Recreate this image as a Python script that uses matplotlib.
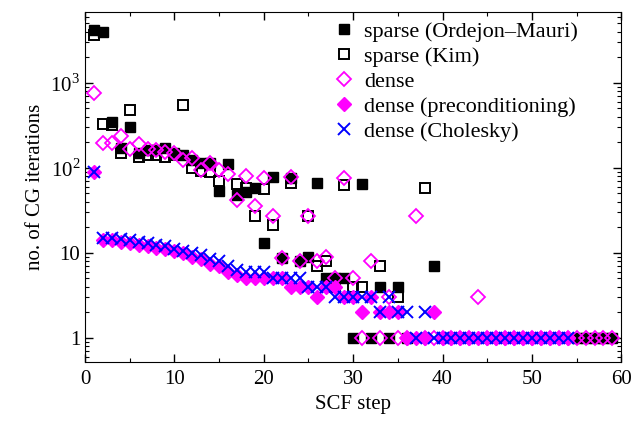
import numpy as np
import matplotlib
matplotlib.use('Agg')
import matplotlib.pyplot as plt
from matplotlib.ticker import FixedLocator, LogLocator, NullFormatter, MultipleLocator

plt.rcParams['font.family'] = ['Liberation Serif', 'DejaVu Serif']
plt.rcParams['mathtext.fontset'] = 'custom'
plt.rcParams['mathtext.rm'] = 'Liberation Serif'

# sparse (Ordejon-Mauri)
om_step = [1, 2, 3, 4, 5, 6, 7, 8, 9, 10, 11, 12, 13, 14, 15, 16, 17, 18, 19, 20,
           21, 22, 23, 24, 25, 26, 27, 28, 29, 30, 31, 32, 33, 34, 35, 36, 39,
           55, 56, 57, 58, 59]
om_val = [4200, 4000, 350, 170, 300, 150, 160, 160, 170, 150, 140, 125, 115, 115, 53, 110, 48, 52, 58, 13,
          78, 8.7, 75, 8, 9, 66, 5, 5, 5, 1, 65, 1, 4, 1, 4, 1, 7,
          1, 1, 1, 1, 1]

# sparse (Kim)
kim_step = [1, 2, 3, 4, 5, 6, 7, 8, 9, 10, 11, 12, 13, 14, 15, 17, 18, 19, 20,
            21, 23, 25, 26, 27, 28, 29, 30, 31, 33, 35, 38]
kim_val = [3600, 330, 320, 150, 480, 135, 140, 140, 135, 140, 550, 100, 92, 90, 70, 65, 58, 27, 57,
           21, 66, 27, 7, 8, 4, 63, 4, 4, 7, 3, 58]

# dense
dn_step = list(range(1, 60))
dn_val = [750, 195, 195, 240, 165, 190, 165, 160, 155, 150, 125, 130, 95, 115, 95, 85, 42, 80, 36, 75,
          27, 8.7, 78, 8, 27, 8, 9, 5, 76, 5, 1, 8, 1, 3, 1, 1, 27, 1, 1, 1,
          1, 1, 1, 3, 1, 1, 1, 1, 1, 1, 1, 1, 1, 1, 1, 1, 1, 1, 1]

# dense (preconditioning)
pre_step = list(range(1, 55))
pre_val = [90, 14, 14, 13.5, 13, 12.5, 12, 11.5, 11, 10.5, 10, 9, 8.5, 7.5, 7, 6, 5.5, 5, 5, 5,
           5, 5, 4, 4, 4, 3, 4, 4, 3, 3, 2, 3, 2, 2, 2, 1, 1, 1, 2, 1,
           1, 1, 1, 1, 1, 1, 1, 1, 1, 1, 1, 1, 1, 1]

# dense (Cholesky)
chol_step = list(range(1, 55))
chol_val = [90, 15, 15, 14.5, 14, 13.5, 13, 12.5, 12, 11, 10.5, 10, 9.5, 8.5, 8, 7, 6.3, 6, 6, 6,
            5, 5, 5, 5, 4, 4, 4, 3, 3, 3, 3, 3, 2, 3, 2, 2, 1, 2, 1, 1,
            1, 1, 1, 1, 1, 1, 1, 1, 1, 1, 1, 1, 1, 1]

fig = plt.figure(figsize=(6.34, 4.28), dpi=100)
ax = fig.add_axes([0.134, 0.154, 0.846, 0.818])

mag = '#ff00ff'
ax.plot(om_step, om_val, 's', ls='none', color='black', ms=7, label='sparse (Ordejon\u2013Mauri)')
ax.plot(kim_step, kim_val, 's', ls='none', mfc='none', mec='black', mew=1.4, ms=7, label='sparse (Kim)')
ax.plot(dn_step, dn_val, 'D', ls='none', mfc='none', mec=mag, mew=1.3, ms=7.5, label='dense')
ax.plot(pre_step, pre_val, 'D', ls='none', color=mag, ms=7.5, label='dense (preconditioning)')
ax.plot(chol_step, chol_val, 'x', ls='none', color='#0000ff', mew=1.4, ms=8.5, label='dense (Cholesky)')

ax.set_yscale('log')
ax.set_xlim(0, 60)
ax.set_ylim(0.52, 6800)
ax.yaxis.set_major_locator(FixedLocator([1, 10, 100, 1000]))
ax.set_yticklabels(['1', '10', r'$10^2$', r'$10^3$'])
ax.yaxis.set_minor_locator(LogLocator(base=10, subs=np.arange(2, 10)))
ax.yaxis.set_minor_formatter(NullFormatter())
ax.xaxis.set_major_locator(MultipleLocator(10))
ax.xaxis.set_minor_locator(MultipleLocator(5))

ax.tick_params(which='both', direction='in', top=True, right=True, labelsize=15)
ax.tick_params(which='major', length=6, width=1)
ax.tick_params(which='minor', length=3, width=0.8)
ax.tick_params(axis='x', pad=6)

ax.set_xlabel('SCF step', fontsize=15, labelpad=4)
ax.set_ylabel('no. of CG iterations', fontsize=15, labelpad=4)

ax.legend(loc='upper right', bbox_to_anchor=(0.952, 1.023), frameon=False, fontsize=16,
          handlelength=0.9, handletextpad=0.45, labelspacing=0.2, borderpad=0.3)

fig.savefig('out.png', dpi=100)
